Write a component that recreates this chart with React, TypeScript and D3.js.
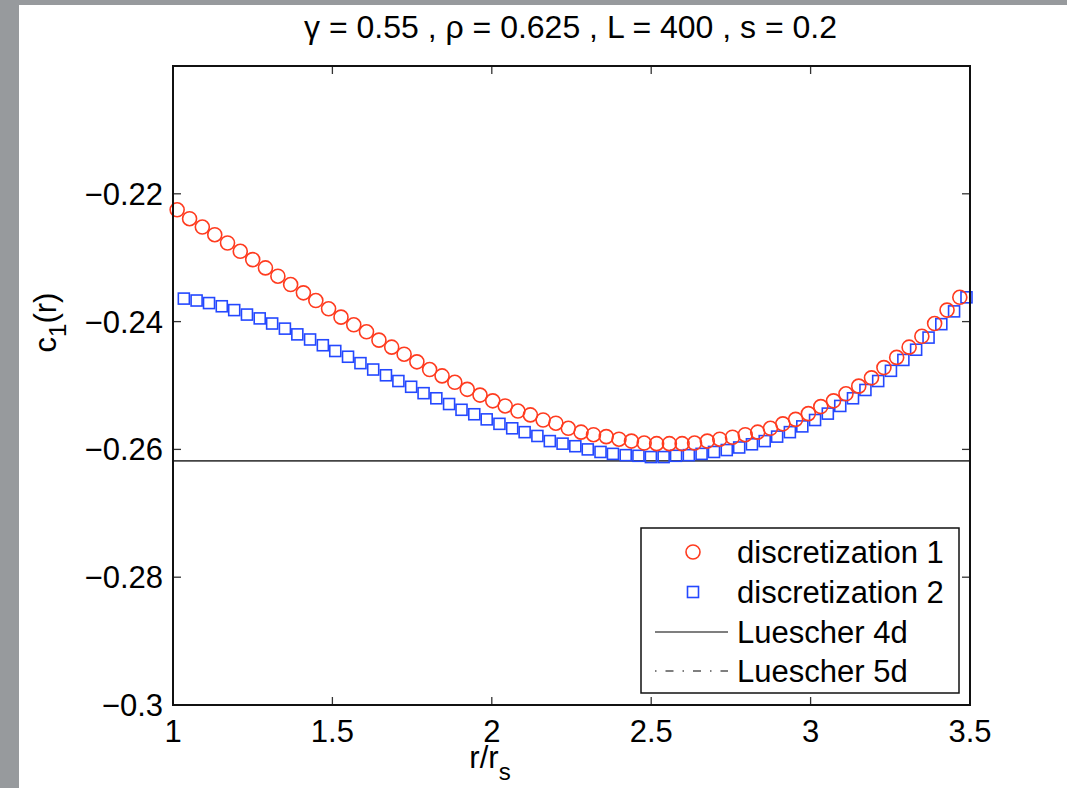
import React, { useEffect, useRef } from 'react';
import * as d3 from 'd3';

const W = 1067;
const H = 788;

// r/r_s positions
const xDisc1 = [1.013, 1.052, 1.092, 1.131, 1.171, 1.211, 1.250, 1.290, 1.329, 1.369, 1.409, 1.448, 1.488, 1.527, 1.567, 1.607, 1.646, 1.686, 1.725, 1.765, 1.805, 1.844, 1.884, 1.923, 1.963, 2.003, 2.042, 2.082, 2.121, 2.161, 2.201, 2.240, 2.280, 2.319, 2.359, 2.399, 2.438, 2.478, 2.517, 2.557, 2.597, 2.636, 2.676, 2.715, 2.755, 2.795, 2.834, 2.874, 2.913, 2.953, 2.993, 3.032, 3.072, 3.111, 3.151, 3.191, 3.230, 3.270, 3.309, 3.349, 3.389, 3.428, 3.468];
const yDisc1 = [-0.2225, -0.2239, -0.2252, -0.2264, -0.2277, -0.2290, -0.2303, -0.2316, -0.2329, -0.2342, -0.2355, -0.2367, -0.2380, -0.2393, -0.2405, -0.2416, -0.2429, -0.2440, -0.2451, -0.2463, -0.2475, -0.2485, -0.2495, -0.2506, -0.2515, -0.2524, -0.2532, -0.2540, -0.2546, -0.2554, -0.2559, -0.2567, -0.2573, -0.2577, -0.2580, -0.2584, -0.2587, -0.2590, -0.2591, -0.2591, -0.2591, -0.2590, -0.2587, -0.2584, -0.2581, -0.2577, -0.2573, -0.2567, -0.2560, -0.2553, -0.2544, -0.2533, -0.2524, -0.2513, -0.2501, -0.2488, -0.2472, -0.2456, -0.2440, -0.2423, -0.2403, -0.2382, -0.2362];

const xDisc2 = [1.034, 1.074, 1.113, 1.153, 1.192, 1.232, 1.272, 1.311, 1.351, 1.390, 1.430, 1.470, 1.509, 1.549, 1.588, 1.628, 1.668, 1.707, 1.747, 1.786, 1.826, 1.866, 1.905, 1.945, 1.984, 2.024, 2.064, 2.103, 2.143, 2.182, 2.222, 2.262, 2.301, 2.341, 2.380, 2.420, 2.460, 2.499, 2.539, 2.578, 2.618, 2.658, 2.697, 2.737, 2.776, 2.816, 2.856, 2.895, 2.935, 2.974, 3.014, 3.054, 3.093, 3.133, 3.172, 3.212, 3.252, 3.291, 3.331, 3.370, 3.410, 3.450, 3.489];
const yDisc2 = [-0.2364, -0.2367, -0.2371, -0.2376, -0.2382, -0.2389, -0.2395, -0.2403, -0.2411, -0.2420, -0.2428, -0.2437, -0.2446, -0.2455, -0.2465, -0.2475, -0.2484, -0.2493, -0.2502, -0.2512, -0.2520, -0.2529, -0.2538, -0.2545, -0.2553, -0.2560, -0.2567, -0.2573, -0.2579, -0.2587, -0.2591, -0.2595, -0.2600, -0.2604, -0.2607, -0.2609, -0.2610, -0.2612, -0.2612, -0.2610, -0.2609, -0.2607, -0.2604, -0.2601, -0.2597, -0.2592, -0.2587, -0.2580, -0.2573, -0.2564, -0.2554, -0.2544, -0.2532, -0.2520, -0.2507, -0.2493, -0.2477, -0.2460, -0.2444, -0.2425, -0.2404, -0.2384, -0.2362];

const luescher4d = -0.2618;

const xTicks = [1, 1.5, 2, 2.5, 3, 3.5];
const xTickLabels = ['1', '1.5', '2', '2.5', '3', '3.5'];
const yTicks = [-0.3, -0.28, -0.26, -0.24, -0.22];
const yTickLabels = ['\u22120.3', '\u22120.28', '\u22120.26', '\u22120.24', '\u22120.22'];
const legendLabels = ['discretization 1', 'discretization 2', 'Luescher 4d', 'Luescher 5d'];

const RED = '#ff3b1f';
const BLUE = '#2448ff';
const FONT = '"Liberation Sans", Arial, Helvetica, sans-serif';

const App = () => {
  const svgRef = useRef(null);

  useEffect(() => {
    const svg = d3.select(svgRef.current);
    svg.selectAll('*').remove();

    // gray page border and white figure
    svg.append('rect').attr('width', W).attr('height', H).attr('fill', '#979a9d');
    svg.append('rect').attr('x', 19).attr('y', 5).attr('width', W - 19).attr('height', H - 5).attr('fill', '#fff');

    const left = 173, right = 970, top = 66, bottom = 705;
    const x = d3.scaleLinear().domain([1, 3.5]).range([left, right]);
    const y = d3.scaleLinear().domain([-0.3, -0.2]).range([bottom, top]);

    const defs = svg.append('defs');
    defs.append('clipPath').attr('id', 'plotclip')
      .append('rect').attr('x', left - 10).attr('y', top).attr('width', right - left + 20).attr('height', bottom - top);

    // title
    svg.append('text')
      .attr('x', (left + right) / 2 - 1)
      .attr('y', 38)
      .attr('text-anchor', 'middle')
      .attr('font-family', FONT)
      .attr('font-size', 32)
      .text('\u03b3 = 0.55 , \u03c1 = 0.625 , L = 400 , s = 0.2');

    // ticks, inward on all sides
    const tk = svg.append('g').attr('stroke', '#333').attr('stroke-width', 1.3);
    xTicks.forEach(t => {
      tk.append('line').attr('x1', x(t)).attr('x2', x(t)).attr('y1', bottom).attr('y2', bottom - 8);
      tk.append('line').attr('x1', x(t)).attr('x2', x(t)).attr('y1', top).attr('y2', top + 8);
    });
    yTicks.forEach(t => {
      tk.append('line').attr('x1', left).attr('x2', left + 8).attr('y1', y(t)).attr('y2', y(t));
      tk.append('line').attr('x1', right).attr('x2', right - 8).attr('y1', y(t)).attr('y2', y(t));
    });

    const lbl = svg.append('g').attr('font-family', FONT).attr('font-size', 31).attr('fill', '#000');
    xTicks.forEach((t, i) => {
      lbl.append('text').attr('x', x(t)).attr('y', 742).attr('text-anchor', 'middle').text(xTickLabels[i]);
    });
    yTicks.forEach((t, i) => {
      lbl.append('text').attr('x', 163).attr('y', y(t) + 11).attr('text-anchor', 'end').text(yTickLabels[i]);
    });

    // axis labels
    const xl = lbl.append('text').attr('x', 490).attr('y', 768).attr('text-anchor', 'middle');
    xl.append('tspan').text('r/r');
    xl.append('tspan').attr('dy', 12).attr('font-size', 24).text('s');

    const yl = lbl.append('text')
      .attr('transform', `translate(56,${(top + bottom) / 2 - 63}) rotate(-90)`)
      .attr('text-anchor', 'middle');
    yl.append('tspan').text('c');
    yl.append('tspan').attr('dy', 10).attr('font-size', 24).text('1');
    yl.append('tspan').attr('dy', -10).text('(r)');

    // Luescher 4d line
    svg.append('line')
      .attr('x1', left).attr('x2', right)
      .attr('y1', y(luescher4d)).attr('y2', y(luescher4d))
      .attr('stroke', '#444').attr('stroke-width', 1.8);

    const plot = svg.append('g').attr('clip-path', 'url(#plotclip)');

    // discretization 2: squares
    const sq = 11;
    plot.selectAll('rect.d2').data(xDisc2).enter().append('rect')
      .attr('x', (d) => x(d) - sq / 2)
      .attr('y', (d, i) => y(yDisc2[i]) - sq / 2)
      .attr('width', sq).attr('height', sq)
      .attr('fill', 'none').attr('stroke', BLUE).attr('stroke-width', 1.6);

    // discretization 1: circles
    plot.selectAll('circle.d1').data(xDisc1).enter().append('circle')
      .attr('cx', (d) => x(d))
      .attr('cy', (d, i) => y(yDisc1[i]))
      .attr('r', 7)
      .attr('fill', 'none').attr('stroke', RED).attr('stroke-width', 1.6);

    // axes box
    svg.append('rect')
      .attr('x', left).attr('y', top).attr('width', right - left).attr('height', bottom - top)
      .attr('fill', 'none').attr('stroke', '#111').attr('stroke-width', 2);

    // legend
    const lg = svg.append('g');
    lg.append('rect').attr('x', 641).attr('y', 528).attr('width', 318).attr('height', 165)
      .attr('fill', '#fff').attr('stroke', '#111').attr('stroke-width', 1.5);
    const rowY = [552, 592, 632, 671];
    lg.append('circle').attr('cx', 693).attr('cy', rowY[0]).attr('r', 7)
      .attr('fill', 'none').attr('stroke', RED).attr('stroke-width', 1.6);
    lg.append('rect').attr('x', 693 - sq / 2).attr('y', rowY[1] - sq / 2).attr('width', sq).attr('height', sq)
      .attr('fill', 'none').attr('stroke', BLUE).attr('stroke-width', 1.6);
    lg.append('line').attr('x1', 655).attr('x2', 728).attr('y1', rowY[2]).attr('y2', rowY[2])
      .attr('stroke', '#000').attr('stroke-width', 1.2);
    lg.append('line').attr('x1', 655).attr('x2', 728).attr('y1', rowY[3]).attr('y2', rowY[3])
      .attr('stroke', '#000').attr('stroke-width', 1.2).attr('stroke-dasharray', '1.5,9,8,9');
    legendLabels.forEach((t, i) => {
      lg.append('text').attr('x', 737).attr('y', rowY[i] + 11)
        .attr('font-family', FONT).attr('font-size', 31).text(t);
    });
  }, []);

  return (
    <svg ref={svgRef} width={W} height={H} viewBox={`0 0 ${W} ${H}`}
      style={{ position: 'fixed', left: 0, top: 0, display: 'block' }} />
  );
};

export default App;
